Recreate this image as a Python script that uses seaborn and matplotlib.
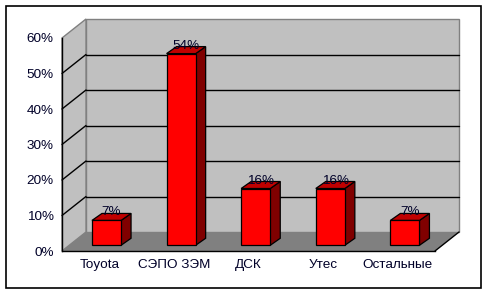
import numpy as np
import pandas as pd
import seaborn as sns
import matplotlib
matplotlib.use("Agg")
import matplotlib.pyplot as plt
from matplotlib.patches import Polygon, Rectangle
from matplotlib.transforms import ScaledTranslation

categories = ["Toyota", "СЭПО ЗЭМ", "ДСК", "Утес", "Остальные"]
shares = [0.07, 0.54, 0.16, 0.16, 0.07]
value_labels = ["7%", "54%", "16%", "16%", "7%"]
ytick_values = [0.0, 0.1, 0.2, 0.3, 0.4, 0.5, 0.6]
ytick_labels = ["0%", "10%", "20%", "30%", "40%", "50%", "60%"]

sns.set_style("white")
plt.rcParams["font.family"] = ["Liberation Sans", "DejaVu Sans"]

W, H, DPI = 488, 294, 100
fig = plt.figure(figsize=(W / DPI, H / DPI), dpi=DPI)
fig.patch.set_facecolor("white")

# front plane axes
ax = fig.add_axes([62 / W, (H - 251) / H, 373 / W, 213 / H])
ax.set_zorder(1)
ax.set_xlim(-0.5, len(categories) - 0.5)
ax.set_ylim(0, 0.6)
ax.patch.set_alpha(0)

TXT = "#000028"
FS = 9.7
DEPTH = (24, 19)          # pixels, back wall offset (right, up)
BAR_PLANE = 0.30          # fraction of depth where bars stand
BAR_DEPTH = (10, 7)       # pixels, bar depth


def off(dx, dy):
    return ax.transData + ScaledTranslation(dx / DPI, dy / DPI, fig.dpi_scale_trans)


def disp(x, y, dx=0, dy=0):
    p = ax.transData.transform((x, y))
    return (p[0] + dx, p[1] + dy)


def figpoly(pts, **kw):
    inv = fig.transFigure.inverted()
    fp = [inv.transform(p) for p in pts]
    poly = Polygon(fp, closed=True, transform=fig.transFigure, **kw)
    fig.add_artist(poly)
    return poly


def figline(a, b, **kw):
    inv = fig.transFigure.inverted()
    fa, fb = inv.transform(a), inv.transform(b)
    fig.add_artist(plt.Line2D([fa[0], fb[0]], [fa[1], fb[1]], transform=fig.transFigure, **kw))


x0, x1 = ax.get_xlim()
y0, y1 = ax.get_ylim()
bx, by = DEPTH

# back wall
figpoly([disp(x0, y0, bx, by), disp(x1, y0, bx, by), disp(x1, y1, bx, by), disp(x0, y1, bx, by)],
        facecolor="#c0c0c0", edgecolor="#808080", lw=1, zorder=0.1)
# left side wall
figpoly([disp(x0, y0), disp(x0, y1), disp(x0, y1, bx, by), disp(x0, y0, bx, by)],
        facecolor="#c0c0c0", edgecolor="#808080", lw=1, zorder=0.2)
# floor
figpoly([disp(x0, y0), disp(x1, y0), disp(x1, y0, bx, by), disp(x0, y0, bx, by)],
        facecolor="#808080", edgecolor="none", lw=0, zorder=0.3)
# gridlines: side wall + back wall
for v in ytick_values[1:-1]:
    figline(disp(x0, v), disp(x0, v, bx, by), color="black", lw=1, zorder=0.4)
    figline(disp(x0, v, bx, by), disp(x1, v, bx, by), color="black", lw=1, zorder=0.4)
# floor right edge
figline(disp(x1, y0), disp(x1, y0, bx, by), color="black", lw=1, zorder=0.4)

# bars
df = pd.DataFrame({"cat": categories, "share": shares})
sns.barplot(data=df, x="cat", y="share", color="#ff0000", saturation=1, width=0.39,
            edgecolor="black", linewidth=0.9, ax=ax, zorder=5)
ax.set_xlim(x0, x1)
ax.set_ylim(y0, y1)

pdx, pdy = BAR_PLANE * bx, BAR_PLANE * by
ddx, ddy = BAR_DEPTH
for i, patch in enumerate(list(ax.patches)):
    patch.set_transform(off(pdx, pdy))
    patch.set_clip_on(False)
    xl = patch.get_x()
    xr = xl + patch.get_width()
    top = patch.get_y() + patch.get_height()
    bot = patch.get_y()
    # side face
    figpoly([disp(xr, bot, pdx, pdy), disp(xr, top, pdx, pdy),
             disp(xr, top, pdx + ddx, pdy + ddy), disp(xr, bot, pdx + ddx, pdy + ddy)],
            facecolor="#800000", edgecolor="black", lw=0.9, zorder=0.6)
    # top face
    figpoly([disp(xl, top, pdx, pdy), disp(xr, top, pdx, pdy),
             disp(xr, top, pdx + ddx, pdy + ddy), disp(xl, top, pdx + ddx, pdy + ddy)],
            facecolor="#c00000", edgecolor="black", lw=0.9, zorder=0.6)
    # value label
    cx = (xl + xr) / 2
    ax.text(cx, top, value_labels[i], transform=off(pdx + ddx / 2, pdy + ddy + 1),
            ha="center", va="center", fontsize=FS, color=TXT, zorder=6, clip_on=False)

# axes styling
for s in ["top", "right"]:
    ax.spines[s].set_visible(False)
ax.spines["left"].set_color("black")
ax.spines["bottom"].set_color("black")
ax.spines["left"].set_linewidth(1)
ax.spines["bottom"].set_linewidth(1)
ax.set_yticks(ytick_values)
ax.set_yticklabels(ytick_labels)
ax.set_xticks(range(len(categories)))
ax.set_xticklabels(categories)
ax.set_xticks(np.arange(-0.5, len(categories), 1.0), minor=True)
ax.tick_params(axis="x", which="major", length=0, pad=6, labelsize=FS, labelcolor=TXT)
ax.tick_params(axis="x", which="minor", length=4, width=1, direction="out", color="black")
ax.tick_params(axis="y", which="major", length=4, width=1, direction="out", color="black",
               pad=2, labelsize=FS, labelcolor=TXT)
ax.set_xlabel("")
ax.set_ylabel("")

# outer border
fig.add_artist(Rectangle((6 / W, (H - 288) / H), 475 / W, 282 / H, transform=fig.transFigure,
                         fill=False, edgecolor="black", lw=1.2, zorder=3))

fig.savefig("out.png", dpi=DPI)
